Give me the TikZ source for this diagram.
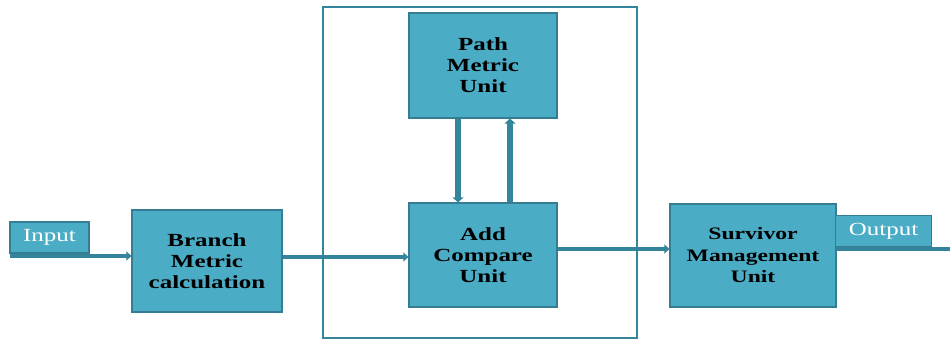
\documentclass[tikz,border=0pt]{standalone}
\usepackage{fontspec}
\usetikzlibrary{arrows.meta}
\newfontfamily\boxfont[FakeStretch=1.35]{Liberation Serif}
\definecolor{boxfill}{RGB}{75,172,198}
\definecolor{boxedge}{RGB}{52,125,146}
\definecolor{linecol}{RGB}{52,132,155}
\tikzset{
  block/.style={draw=boxedge, line width=1.2pt, fill=boxfill, align=center, inner sep=0pt,
    font={\boxfont\bfseries\fontsize{18.5}{21}\selectfont}, text=black},
  tag/.style={draw=boxedge, line width=1.2pt, fill=boxfill, inner sep=0pt,
    font={\boxfont\fontsize{18.5}{21}\selectfont}, text=white},
  conn/.style={draw=linecol, line width=4pt, -{Triangle[length=5pt,width=9pt]}},
  vconn/.style={draw=linecol, line width=6pt, -{Triangle[length=5pt,width=11pt]}},
  plain/.style={draw=linecol, line width=4pt},
  framebox/.style={draw=linecol, line width=2.5pt, inner sep=0pt}
}
\begin{document}
\begin{tikzpicture}[x=1pt,y=-1pt]
\useasboundingbox (0,0) rectangle (950,342);
% outer frame
\node[framebox, minimum width=314pt, minimum height=331pt] (frame) at (480,172.5) {};
% blocks
\node[tag, minimum width=79pt, minimum height=31pt] (inp) at (49.5,237.5) {Input};
\node[block, minimum width=150pt, minimum height=102pt] (bm) at (207,261) {Branch\\Metric\\calculation};
\node[block, minimum width=148pt, minimum height=105pt] (pmu) at (483,65.5) {Path\\Metric\\Unit};
\node[block, minimum width=148pt, minimum height=104pt] (acu) at (483,255) {Add\\Compare\\Unit};
\node[block, minimum width=166pt, minimum height=103pt, font={\boxfont\bfseries\fontsize{17.5}{21.5}\selectfont}] (smu) at (753,255.5) {Survivor\\Management\\Unit};
\node[tag, minimum width=96pt, minimum height=31pt] (outp) at (883.5,231) {Output};
% connectors
\coordinate (instart) at (10,256);
\coordinate (outend) at (950,249);
\draw[conn] (instart) -- (bm.west |- instart);
\draw[conn] (bm.east |- 0,257) -- (acu.west |- 0,257);
\draw[conn] (acu.east |- 0,249) -- (smu.west |- 0,249);
\draw[plain] (smu.east |- outend) -- (outend);
\draw[vconn] (pmu.south -| 458,0) -- (acu.north -| 458,0);
\draw[vconn] (acu.north -| 510,0) -- (pmu.south -| 510,0);
\end{tikzpicture}
\end{document}
